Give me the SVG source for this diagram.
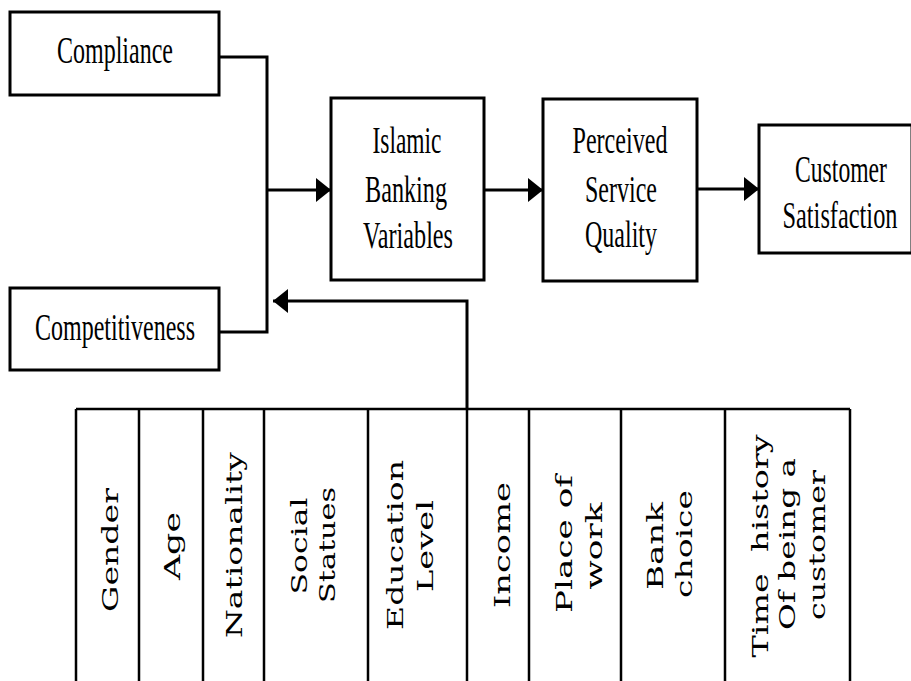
<svg xmlns="http://www.w3.org/2000/svg" width="911" height="681" viewBox="0 0 911 681">
<style>
.box{fill:#fff;stroke:#000;stroke-width:3}
.t{font-family:"Liberation Serif","Times New Roman",serif;font-size:37px;fill:#000;text-anchor:middle}
.s{font-size:24px}
.v{font-family:"DejaVu Serif","Liberation Serif",serif;font-size:22px;fill:#000;text-anchor:middle}
.c{fill:none;stroke:#000;stroke-width:3}
.tl{fill:none;stroke:#000;stroke-width:2.5}
</style>
<defs>
<marker id="ah" markerWidth="15" markerHeight="24" refX="15" refY="12" orient="auto" markerUnits="userSpaceOnUse">
<path d="M0,0 L15,12 L0,24 z" fill="#000"/>
</marker>
</defs>
<rect width="911" height="681" fill="#fff"/>
<g id="connectors">
<path class="c" d="M219,57 H267 V332 H219"/>
<path class="c" d="M267,190 H331" marker-end="url(#ah)"/>
<path class="c" d="M484,190 H543" marker-end="url(#ah)"/>
<path class="c" d="M697,189 H759" marker-end="url(#ah)"/>
<path class="c" d="M467,409 V301 H273" marker-end="url(#ah)"/>
</g>
<g id="compliance">
<rect class="box" x="10" y="12" width="209" height="83"/>
<text class="t" x="115" y="63" textLength="116" lengthAdjust="spacingAndGlyphs">Compliance</text>
</g>
<g id="competitiveness">
<rect class="box" x="10" y="288" width="209" height="82"/>
<text class="t" x="115" y="340" textLength="160" lengthAdjust="spacingAndGlyphs">Competitiveness</text>
</g>
<g id="islamic">
<rect class="box" x="331" y="98" width="153" height="182"/>
<text class="t" x="407" y="153" textLength="69" lengthAdjust="spacingAndGlyphs">Islamic</text>
<text class="t" x="406" y="202" textLength="82" lengthAdjust="spacingAndGlyphs">Banking</text>
<text class="t" x="408" y="248" textLength="90" lengthAdjust="spacingAndGlyphs">Variables</text>
</g>
<g id="perceived">
<rect class="box" x="543" y="99" width="154" height="182"/>
<text class="t" x="620" y="153" textLength="95" lengthAdjust="spacingAndGlyphs">Perceived</text>
<text class="t" x="621" y="202" textLength="72" lengthAdjust="spacingAndGlyphs">Service</text>
<text class="t" x="621" y="247" textLength="72" lengthAdjust="spacingAndGlyphs">Quality</text>
</g>
<g id="customer">
<rect class="box" x="759" y="125" width="153" height="128"/>
<text class="t s" transform="translate(841,182) scale(1,1.54)" textLength="92" lengthAdjust="spacingAndGlyphs">Customer</text>
<text class="t s" transform="translate(840,228) scale(1,1.54)" textLength="115" lengthAdjust="spacingAndGlyphs">Satisfaction</text>
</g>
<g id="demographics">
<path class="tl" d="M76,409 H850 M76,409 V690 M139,409 V690 M203,409 V690 M264,409 V690 M368,409 V690 M467,409 V690 M529,409 V690 M621,409 V690 M725,409 V690 M850,409 V690"/>
<text class="v" transform="translate(118,550) rotate(-90)" textLength="124" lengthAdjust="spacingAndGlyphs">Gender</text>
<text class="v" transform="translate(180,546) rotate(-90)" textLength="68" lengthAdjust="spacingAndGlyphs">Age</text>
<text class="v" transform="translate(242,545) rotate(-90)" textLength="186" lengthAdjust="spacingAndGlyphs">Nationality</text>
<text class="v" transform="translate(307,546) rotate(-90)" textLength="97" lengthAdjust="spacingAndGlyphs">Social</text>
<text class="v" transform="translate(335,545) rotate(-90)" textLength="116" lengthAdjust="spacingAndGlyphs">Statues</text>
<text class="v" transform="translate(403,545) rotate(-90)" textLength="170" lengthAdjust="spacingAndGlyphs">Education</text>
<text class="v" transform="translate(433,546) rotate(-90)" textLength="92" lengthAdjust="spacingAndGlyphs">Level</text>
<text class="v" transform="translate(510,545) rotate(-90)" textLength="126" lengthAdjust="spacingAndGlyphs">Income</text>
<text class="v" transform="translate(572,544) rotate(-90)" textLength="138" lengthAdjust="spacingAndGlyphs">Place of</text>
<text class="v" transform="translate(602,546) rotate(-90)" textLength="87" lengthAdjust="spacingAndGlyphs">work</text>
<text class="v" transform="translate(663,546) rotate(-90)" textLength="88" lengthAdjust="spacingAndGlyphs">Bank</text>
<text class="v" transform="translate(692,544) rotate(-90)" textLength="108" lengthAdjust="spacingAndGlyphs">choice</text>
<text class="v" transform="translate(768,546) rotate(-90)" textLength="223" lengthAdjust="spacingAndGlyphs">Time&#160;&#160;history</text>
<text class="v" transform="translate(795,544) rotate(-90)" textLength="172" lengthAdjust="spacingAndGlyphs">Of being a</text>
<text class="v" transform="translate(825,545) rotate(-90)" textLength="150" lengthAdjust="spacingAndGlyphs">customer</text>
</g>
</svg>
